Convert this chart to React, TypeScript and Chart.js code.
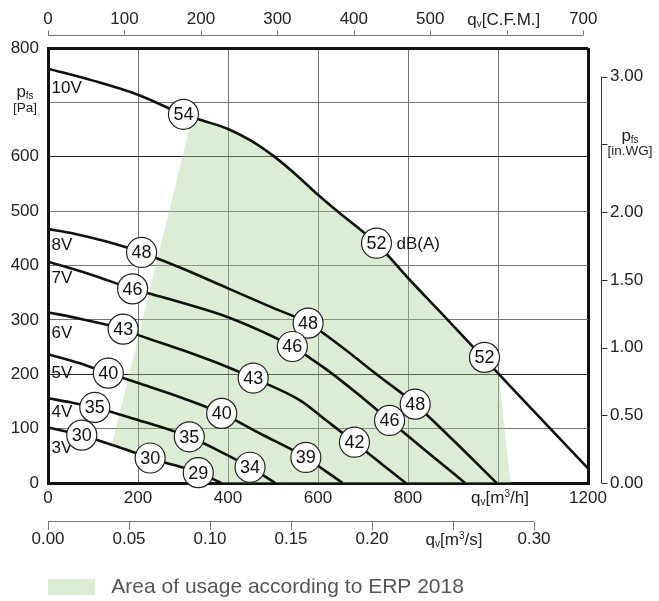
import React, { useEffect, useRef } from 'react';
import { Chart, registerables } from 'chart.js';

Chart.register(...registerables);

const FONT = '"Liberation Sans", Arial, Helvetica, sans-serif';

// ---- unit conversions ----
const M3H_PER_CFM = 1.69901;
const PA_PER_INWG = 249.089;
const M3H_PER_M3S = 3600;

// ---- tick values ----
const Q_TICKS = [0, 200, 400, 600, 800, 1000, 1200];
const P_TICKS = [0, 100, 200, 300, 400, 500, 600, 700, 800];
const CFM_TICKS = [0, 100, 200, 300, 400, 500, 600, 700];
const M3S_TICKS = [0, 0.05, 0.1, 0.15, 0.2, 0.25, 0.3];
const INWG_TICKS = [0, 0.5, 1.0, 1.5, 2.0, 2.5, 3.0];

// ticks whose label is replaced by the unit title
const Q_TITLE_TICK = 1000;
const P_TITLE_TICK = 700;
const CFM_TITLE_TICK = 600;
const M3S_TITLE_TICK = 0.25;
const INWG_TITLE_TICK = 2.5;

// ---- fan curves (q in m3/h, p in Pa) ----
const CURVE_NAMES = ['10V', '8V', '7V', '6V', '5V', '4V', '3V'];
const Q_10V = [0, 100, 200, 300, 350, 400, 450, 500, 550, 600, 650, 700, 730, 800, 870, 945, 1000, 1050, 1200];
const P_10V = [762, 740, 714, 678, 665, 651, 630, 602, 568, 530, 495, 462, 441, 377, 316, 250, 202, 158, 27];
const Q_8V = [0, 56, 130, 208, 300, 400, 500, 578, 650, 730, 816, 900, 997];
const P_8V = [467, 459, 444, 424, 394, 358, 322, 294, 252, 200, 145, 79, 0];
const Q_7V = [0, 93, 188, 227, 300, 400, 480, 543, 620, 700, 759, 840, 927];
const P_7V = [407, 384, 357, 348, 331, 305, 277, 251, 208, 156, 115, 59, 0];
const Q_6V = [0, 71, 167, 204, 300, 400, 456, 560, 620, 681, 740, 795];
const P_6V = [314, 302, 283, 271, 244, 213, 193, 152, 114, 75, 36, 0];
const Q_5V = [0, 67, 134, 204, 300, 386, 471, 573, 620, 655];
const P_5V = [237, 221, 202, 183, 156, 128, 91, 47, 20, 0];
const Q_4V = [0, 52, 104, 200, 314, 380, 449, 505];
const P_4V = [156, 148, 139, 116, 85, 59, 29, 0];
const Q_3V = [0, 75, 150, 227, 280, 334, 385];
const P_3V = [102, 88, 68, 46, 33, 19, 0];

// curve name label positions
const VOLT_Q = [8, 8, 8, 8, 8, 8, 8];
const VOLT_P = [726, 437, 377, 275, 201, 130, 63];

// ---- ERP 2018 area (polygon) ----
const ERP_LABEL = 'Area of usage according to ERP 2018';
const ERP_Q = [142, 320, 350, 400, 450, 500, 550, 600, 650, 700, 730, 800, 870, 945, 1001, 1028, 385, 334, 280, 227, 150];
const ERP_P = [70, 672, 665, 651, 630, 602, 568, 530, 495, 462, 441, 377, 316, 250, 201, 0, 0, 19, 33, 46, 68];

// ---- sound levels dB(A) ----
const DB_TEXT = ['54', '52', '52', '48', '48', '48', '46', '46', '46', '43', '43', '42', '40', '40', '39', '35', '35', '34', '30', '30', '29'];
const DB_Q = [301, 730, 970, 208, 578, 816, 188, 543, 759, 167, 456, 681, 134, 386, 573, 104, 314, 449, 75, 227, 334];
const DB_P = [678, 441, 231, 424, 294, 145, 357, 251, 115, 283, 193, 75, 202, 128, 47, 139, 85, 29, 88, 46, 19];
const DB_UNIT_LABEL = 'dB(A)';
const DB_UNIT_INDEX = 1;

const CURVES_Q = [Q_10V, Q_8V, Q_7V, Q_6V, Q_5V, Q_4V, Q_3V];
const CURVES_P = [P_10V, P_8V, P_7V, P_6V, P_5V, P_4V, P_3V];

type Part = { t: string; size: number; dy: number };

function drawRich(ctx: CanvasRenderingContext2D, parts: Part[], x: number, baseline: number, align: 'center' | 'left') {
  let w = 0;
  parts.forEach((p) => {
    ctx.font = `${p.size}px ${FONT}`;
    w += ctx.measureText(p.t).width;
  });
  let cx = align === 'center' ? x - w / 2 : x;
  ctx.textAlign = 'left';
  ctx.textBaseline = 'alphabetic';
  parts.forEach((p) => {
    ctx.font = `${p.size}px ${FONT}`;
    ctx.fillText(p.t, cx, baseline + p.dy);
    cx += ctx.measureText(p.t).width;
  });
}

const overlayPlugin = {
  id: 'overlay',
  afterDatasetsDraw(chart: any) {
    const { ctx } = chart;
    const xs = chart.scales.x;
    const ys = chart.scales.y;
    ctx.save();
    // curve names
    ctx.font = `17px ${FONT}`;
    ctx.fillStyle = '#111';
    ctx.textAlign = 'left';
    ctx.textBaseline = 'middle';
    CURVE_NAMES.forEach((t, i) => {
      ctx.fillText(t, xs.getPixelForValue(VOLT_Q[i]), ys.getPixelForValue(VOLT_P[i]));
    });
    // sound circles
    DB_TEXT.forEach((t, i) => {
      const px = xs.getPixelForValue(DB_Q[i]);
      const py = ys.getPixelForValue(DB_P[i]);
      ctx.beginPath();
      ctx.arc(px, py, 15, 0, Math.PI * 2);
      ctx.fillStyle = '#fff';
      ctx.fill();
      ctx.lineWidth = 1.2;
      ctx.strokeStyle = '#222';
      ctx.stroke();
      ctx.fillStyle = '#111';
      ctx.font = `18px ${FONT}`;
      ctx.textAlign = 'center';
      ctx.textBaseline = 'middle';
      ctx.fillText(t, px, py + 1);
    });
    ctx.font = `17px ${FONT}`;
    ctx.textAlign = 'left';
    ctx.fillText(
      DB_UNIT_LABEL,
      xs.getPixelForValue(DB_Q[DB_UNIT_INDEX]) + 20,
      ys.getPixelForValue(DB_P[DB_UNIT_INDEX]) + 1
    );
    ctx.restore();
  },
  afterDraw(chart: any) {
    const { ctx } = chart;
    const { x2, x3, y2, y, x } = chart.scales;
    ctx.save();
    ctx.lineWidth = 1;
    // top CFM axis
    const topY = x2.bottom - 12.5;
    ctx.strokeStyle = '#777';
    ctx.beginPath();
    ctx.moveTo(x2.getPixelForValue(CFM_TICKS[0]), topY);
    ctx.lineTo(x2.getPixelForValue(CFM_TICKS[CFM_TICKS.length - 1]), topY);
    CFM_TICKS.forEach((v) => {
      const px = Math.round(x2.getPixelForValue(v)) + 0.5;
      ctx.moveTo(px, topY);
      ctx.lineTo(px, topY - 5);
    });
    ctx.stroke();
    // bottom m3/s axis
    const botY = x3.top + 0.5;
    ctx.beginPath();
    ctx.moveTo(x3.getPixelForValue(M3S_TICKS[0]), botY);
    ctx.lineTo(x3.getPixelForValue(M3S_TICKS[M3S_TICKS.length - 1]), botY);
    M3S_TICKS.forEach((v) => {
      const px = Math.round(x3.getPixelForValue(v)) + 0.5;
      ctx.moveTo(px, botY);
      ctx.lineTo(px, botY + 8.5);
    });
    ctx.stroke();
    // right in.WG axis
    const rx = y2.left + 13.5;
    ctx.strokeStyle = '#333';
    ctx.beginPath();
    ctx.moveTo(rx, y2.getPixelForValue(INWG_TICKS[0]));
    ctx.lineTo(rx, y2.getPixelForValue(INWG_TICKS[INWG_TICKS.length - 1]));
    INWG_TICKS.forEach((v) => {
      const py = Math.round(y2.getPixelForValue(v)) + 0.5;
      ctx.moveTo(rx, py);
      ctx.lineTo(rx + 6, py);
    });
    ctx.stroke();

    // unit titles
    ctx.fillStyle = '#222';
    // top C.F.M.
    drawRich(
      ctx,
      [
        { t: 'q', size: 17, dy: 0 },
        { t: 'v', size: 10, dy: 2 },
        { t: '[C.F.M.]', size: 17, dy: 0 },
      ],
      x2.getPixelForValue(CFM_TITLE_TICK) - 3,
      x2.bottom - 18.5 - 10.2 + 6,
      'center'
    );
    // bottom m3/h
    drawRich(
      ctx,
      [
        { t: 'q', size: 17, dy: 0 },
        { t: 'v', size: 10, dy: 2 },
        { t: '[m', size: 17, dy: 0 },
        { t: '3', size: 10, dy: -6 },
        { t: '/h]', size: 17, dy: 0 },
      ],
      x.getPixelForValue(Q_TITLE_TICK) + 2,
      x.top + 4 + 10.2 + 6,
      'center'
    );
    // bottom m3/s
    drawRich(
      ctx,
      [
        { t: 'q', size: 17, dy: 0 },
        { t: 'v', size: 10, dy: 2 },
        { t: '[m', size: 17, dy: 0 },
        { t: '3', size: 10, dy: -6 },
        { t: '/s]', size: 17, dy: 0 },
      ],
      x3.getPixelForValue(M3S_TITLE_TICK) + 1,
      x3.top + 8 + 10.2 + 6,
      'center'
    );
    // left p_fs [Pa]
    const py700 = y.getPixelForValue(P_TITLE_TICK);
    drawRich(ctx, [{ t: 'p', size: 17, dy: 0 }, { t: 'fs', size: 10, dy: 1.5 }], 25, py700 - 5, 'center');
    drawRich(ctx, [{ t: '[Pa]', size: 13.5, dy: 0 }], 25, py700 + 9.5, 'center');
    // right p_fs [in.WG]
    const py25 = y2.getPixelForValue(INWG_TITLE_TICK);
    drawRich(ctx, [{ t: 'p', size: 17, dy: 0 }, { t: 'fs', size: 10, dy: 1.5 }], y2.left + 42, py25 - 3, 'center');
    drawRich(ctx, [{ t: '[in.WG]', size: 13.5, dy: 0 }], y2.left + 42, py25 + 11, 'center');
    ctx.restore();
  },
};

const tickFont = { family: FONT, size: 17 };

const near = (a: number, b: number) => Math.abs(a - b) < 1e-9;

export default function App() {
  const canvasRef = useRef<HTMLCanvasElement | null>(null);

  useEffect(() => {
    const canvas = canvasRef.current;
    if (!canvas) return;
    Chart.defaults.font.family = FONT;
    Chart.defaults.color = '#222';

    const datasets: any[] = [
      {
        label: ERP_LABEL,
        data: ERP_Q.map((q, i) => ({ x: q, y: ERP_P[i] })),
        showLine: true,
        fill: 'shape',
        backgroundColor: 'rgba(170,208,148,0.4)',
        borderColor: 'rgba(0,0,0,0)',
        borderWidth: 0,
        pointRadius: 0,
        tension: 0,
        order: 10,
      },
      ...CURVE_NAMES.map((name, k) => ({
        label: name,
        data: CURVES_Q[k].map((q, i) => ({ x: q, y: CURVES_P[k][i] })),
        showLine: true,
        fill: false,
        borderColor: '#111',
        backgroundColor: '#111',
        borderWidth: 2.6,
        pointRadius: 0,
        cubicInterpolationMode: 'monotone',
        order: 1,
      })),
    ];

    const chart = new Chart(canvas, {
      type: 'line',
      data: { datasets },
      plugins: [overlayPlugin],
      options: {
        animation: false,
        responsive: false,
        events: [],
        layout: { padding: 0 },
        plugins: {
          tooltip: { enabled: false },
          filler: { drawTime: 'beforeDatasetsDraw' },
          legend: {
            position: 'bottom',
            align: 'start',
            fullSize: false,
            maxHeight: 22.5,
            labels: {
              boxWidth: 49,
              boxHeight: 16,
              padding: -2,
              color: '#555',
              font: { family: FONT, size: 21 },
              filter: (item: any) => item.datasetIndex === 0,
              generateLabels: (ch: any) =>
                (Chart.defaults.plugins.legend.labels.generateLabels as any)(ch).map((l: any) => ({
                  ...l,
                  text: ' ' + l.text,
                })),
            },
          },
        },
        scales: {
          x: {
            type: 'linear',
            position: 'bottom',
            min: 0,
            max: 1200,
            afterBuildTicks: (s: any) => {
              s.ticks = Q_TICKS.map((v) => ({ value: v }));
            },
            afterFit: (s: any) => {
              s.height = 38;
            },
            grid: {
              drawTicks: false,
              color: (c: any) => (c.tick && (c.tick.value === 0 || c.tick.value === 1200) ? '#111' : '#737373'),
              lineWidth: (c: any) => (c.tick && (c.tick.value === 0 || c.tick.value === 1200) ? 3 : 1),
            },
            border: { display: true, color: '#111', width: 3 },
            ticks: {
              padding: 5,
              font: tickFont,
              color: '#222',
              autoSkip: false,
              maxRotation: 0,
              callback: (v: any) => (near(v, Q_TITLE_TICK) ? '' : String(v)),
            },
          },
          x2: {
            type: 'linear',
            position: 'top',
            min: 0,
            max: 1200 / M3H_PER_CFM,
            afterBuildTicks: (s: any) => {
              s.ticks = CFM_TICKS.map((v) => ({ value: v }));
            },
            afterFit: (s: any) => {
              s.height = 48;
            },
            grid: { display: false, drawTicks: false },
            border: { display: false },
            ticks: {
              padding: 18.5,
              font: tickFont,
              color: '#222',
              autoSkip: false,
              maxRotation: 0,
              callback: (v: any) => (near(v, CFM_TITLE_TICK) ? '' : String(v)),
            },
          },
          x3: {
            type: 'linear',
            position: 'bottom',
            weight: 1,
            min: 0,
            max: 1200 / M3H_PER_M3S,
            afterBuildTicks: (s: any) => {
              s.ticks = M3S_TICKS.map((v) => ({ value: v }));
            },
            afterFit: (s: any) => {
              s.height = 57.5;
            },
            grid: { display: false, drawTicks: false },
            border: { display: false },
            ticks: {
              padding: 8,
              font: tickFont,
              color: '#222',
              autoSkip: false,
              maxRotation: 0,
              callback: (v: any) => (near(v, M3S_TITLE_TICK) ? '' : Number(v).toFixed(2)),
            },
          },
          y: {
            type: 'linear',
            position: 'left',
            min: 0,
            max: 800,
            afterBuildTicks: (s: any) => {
              s.ticks = P_TICKS.map((v) => ({ value: v }));
            },
            afterFit: (s: any) => {
              s.width = 48;
            },
            grid: {
              drawTicks: false,
              color: (c: any) => {
                const v = c.tick ? c.tick.value : -1;
                if (v === 0 || v === 800) return '#111';
                if (v === 600 || v === 200) return '#222';
                return '#737373';
              },
              lineWidth: (c: any) => (c.tick && (c.tick.value === 0 || c.tick.value === 800) ? 3 : 1),
            },
            border: { display: true, color: '#111', width: 3 },
            ticks: {
              padding: 9,
              font: tickFont,
              color: '#222',
              autoSkip: false,
              callback: (v: any) => (near(v, P_TITLE_TICK) ? '' : String(v)),
            },
          },
          y2: {
            type: 'linear',
            position: 'right',
            min: 0,
            max: 800 / PA_PER_INWG,
            afterBuildTicks: (s: any) => {
              s.ticks = INWG_TICKS.map((v) => ({ value: v }));
            },
            afterFit: (s: any) => {
              s.width = 71;
            },
            grid: { display: false, drawTicks: false },
            border: { display: false },
            ticks: {
              padding: 22,
              font: tickFont,
              color: '#222',
              autoSkip: false,
              callback: (v: any) => (near(v, INWG_TITLE_TICK) ? '' : Number(v).toFixed(2)),
            },
          },
        },
      } as any,
    });

    return () => chart.destroy();
  }, []);

  return (
    <div style={{ position: 'fixed', left: 0, top: 0, width: 659, height: 601, background: '#fff' }}>
      <canvas ref={canvasRef} width={659} height={601} style={{ display: 'block', width: 659, height: 601 }} />
    </div>
  );
}
